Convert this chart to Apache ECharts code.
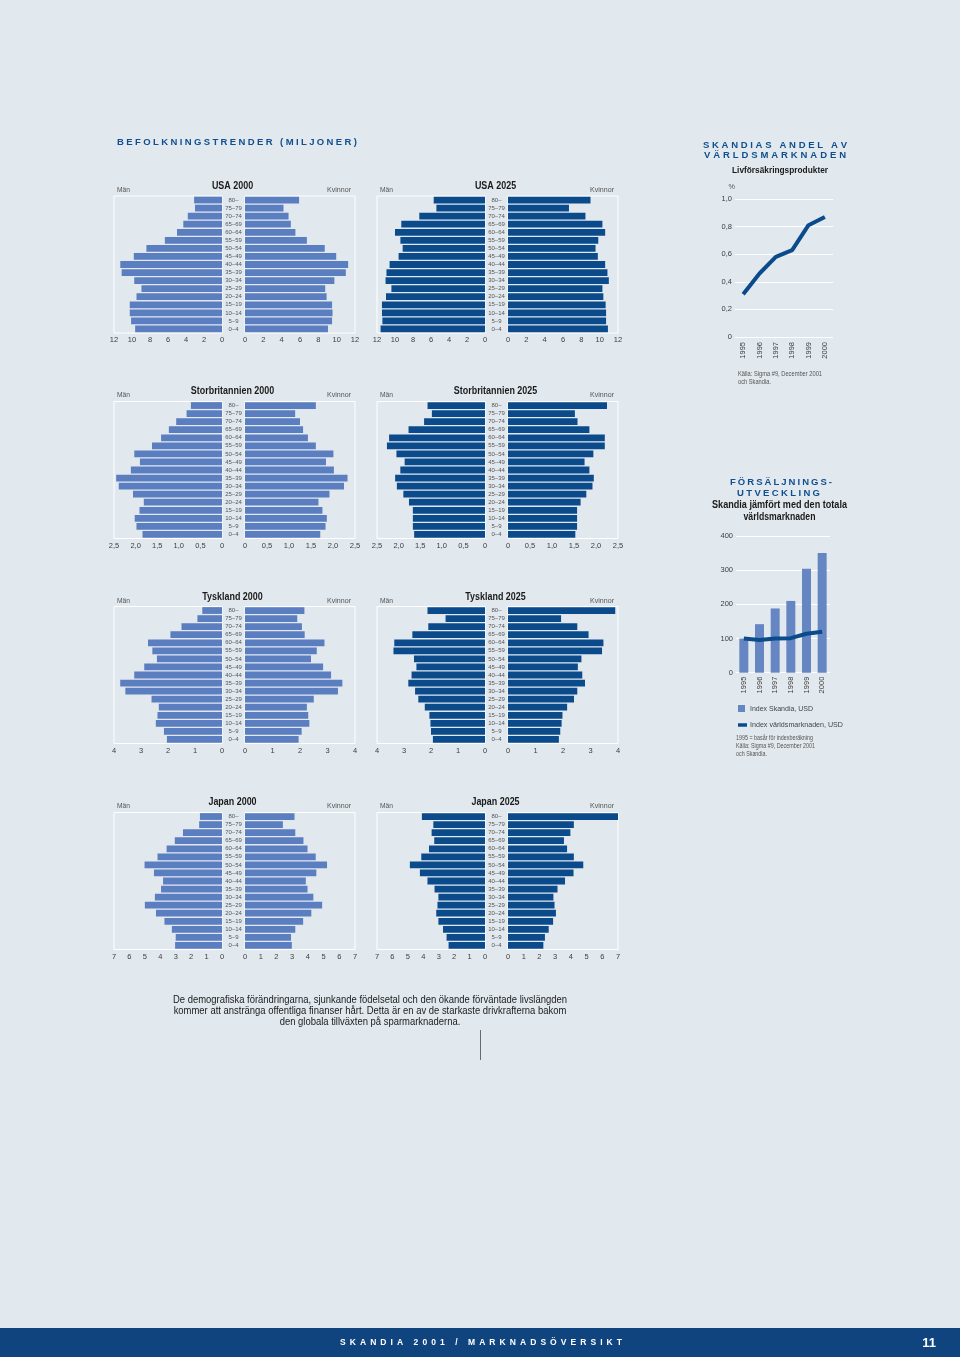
<!DOCTYPE html>
<html><head><meta charset="utf-8">
<script src="https://cdn.jsdelivr.net/npm/echarts@6/dist/echarts.min.js"></script>
<style>html,body{margin:0;padding:0;background:#e2e9ee;} #c{width:960px;height:1357px;}</style>
</head><body><div id="c"></div><script>
// ---------- DATA ----------
const ages = ['80–','75–79','70–74','65–69','60–64','55–59','50–54','45–49','40–44','35–39','30–34','25–29','20–24','15–19','10–14','5–9','0–4'];
const usa2000Men   = [3.1,3.0,3.8,4.3,5.0,6.35,8.4,9.8,11.3,11.15,9.75,8.95,9.5,10.25,10.25,10.1,9.65];
const usa2000Women = [5.9,4.2,4.75,5.0,5.5,6.75,8.7,9.95,11.25,11.0,9.75,8.75,8.9,9.5,9.55,9.5,9.05];
const usa2025Men   = [5.7,5.4,7.3,9.3,10.0,9.4,9.15,9.6,10.6,10.95,11.05,10.4,11.0,11.45,11.45,11.4,11.6];
const usa2025Women = [9.0,6.65,8.45,10.3,10.6,9.85,9.55,9.8,10.6,10.85,11.0,10.3,10.4,10.65,10.7,10.7,10.9];
const uk2000Men    = [0.72,0.82,1.06,1.23,1.41,1.62,2.03,1.9,2.11,2.45,2.39,2.06,1.81,1.91,2.02,1.98,1.84];
const uk2000Women  = [1.61,1.14,1.25,1.32,1.43,1.61,2.01,1.84,2.02,2.33,2.25,1.92,1.67,1.76,1.86,1.83,1.71];
const uk2025Men    = [1.33,1.23,1.41,1.77,2.22,2.27,2.05,1.86,1.96,2.08,2.04,1.89,1.76,1.67,1.67,1.67,1.64];
const uk2025Women  = [2.25,1.52,1.58,1.85,2.2,2.2,1.94,1.74,1.85,1.95,1.92,1.78,1.65,1.57,1.57,1.57,1.53];
const de2000Men    = [0.73,0.91,1.5,1.91,2.74,2.58,2.41,2.88,3.25,3.77,3.58,2.61,2.34,2.39,2.45,2.15,2.04];
const de2000Women  = [2.16,1.9,2.07,2.17,2.89,2.61,2.4,2.84,3.13,3.54,3.38,2.5,2.25,2.3,2.34,2.06,1.95];
const de2025Men    = [2.13,1.46,2.1,2.69,3.36,3.39,2.63,2.54,2.72,2.84,2.59,2.47,2.23,2.06,2.02,2.0,1.93];
const de2025Women  = [3.9,1.93,2.52,2.93,3.47,3.42,2.67,2.54,2.7,2.8,2.52,2.4,2.15,1.98,1.95,1.9,1.85];
const jp2000Men    = [1.43,1.48,2.53,3.06,3.59,4.18,5.02,4.41,3.82,3.95,4.35,5.0,4.28,3.73,3.25,3.0,3.04];
const jp2000Women  = [3.15,2.41,3.2,3.72,3.98,4.5,5.22,4.54,3.87,3.98,4.35,4.91,4.22,3.7,3.2,2.93,2.98];
const jp2025Men    = [4.09,3.35,3.46,3.29,3.63,4.13,4.87,4.22,3.73,3.27,3.02,3.08,3.16,3.02,2.72,2.49,2.36];
const jp2025Women  = [7.0,4.19,3.97,3.56,3.76,4.19,4.79,4.17,3.63,3.15,2.89,2.96,3.05,2.87,2.59,2.35,2.25];
const pyramidTitles = ['USA 2000','USA 2025','Storbritannien 2000','Storbritannien 2025','Tyskland 2000','Tyskland 2025','Japan 2000','Japan 2025'];
const scaleMax  = [12, 2.5, 4, 7];
const scaleStep = [2, 0.5, 1, 1];
const years = ['1995','1996','1997','1998','1999','2000'];
const skandiaShare = [0.31,0.46,0.58,0.63,0.81,0.87];
const skandiaIndex = [100,142,188,210,304,350];
const worldIndex = [100,96,100,101,114,120];
const paragraph = ['De demografiska förändringarna, sjunkande födelsetal och den ökande förväntade livslängden',
                   'kommer att anstränga offentliga finanser hårt. Detta är en av de starkaste drivkrafterna bakom',
                   'den globala tillväxten på sparmarknaderna.'];

// ---------- LAYOUT ----------
const FW = '"Liberation Sans",Arial,sans-serif';
const C_LIGHT = '#5b7ec0', C_DARK = '#0b4b8c', C_HEAD = '#0f4f8f', C_TXT = '#3c3c3c';
const rowTop = [196, 401.5, 606.5, 812.5];
const PH = 137;
const sets = [[usa2000Men,usa2000Women],[usa2025Men,usa2025Women],[uk2000Men,uk2000Women],[uk2025Men,uk2025Women],
              [de2000Men,de2000Women],[de2025Men,de2025Women],[jp2000Men,jp2000Women],[jp2025Men,jp2025Women]];

function fmt(v, step){ if (v === 0) return '0'; return step < 1 ? v.toFixed(1).replace('.', ',') : String(v); }
const mctx = document.createElement('canvas').getContext('2d');
function measure(text, size, weight){ mctx.font = (weight||'normal') + ' ' + size + 'px ' + FW; return mctx.measureText(text).width; }

const grid = [], xAxis = [], yAxis = [], series = [], graphic = [];
function stxt(text, x, y, scale, o){
  o = o || {};
  graphic.push({type:'text', silent:true, x, y, scaleX:scale,
    style:{text, x:0, y:0, fontFamily:FW, fontSize:o.fontSize||8, fontWeight:o.fontWeight||'normal', fill:o.fill||C_TXT, align:o.align||'left', verticalAlign:'middle'}});
}
function fitText(text, x, y, width, o){
  o = o || {};
  const w = measure(text, o.fontSize||8, o.fontWeight);
  stxt(text, x, y, width / w, o);
}
function spacedText(text, cx, y, width, o){
  o = o || {};
  const chars = text.split('');
  const ws = chars.map(ch => measure(ch, o.fontSize||9, o.fontWeight||'bold'));
  const total = ws.reduce((a,b)=>a+b,0);
  const sp = (width - total) / (chars.length - 1);
  let cur = (o.align === 'left') ? cx : cx - width/2;
  chars.forEach((ch, k) => {
    if (ch !== ' ') graphic.push({type:'text', silent:true, style:{text:ch, x:cur, y, fontFamily:FW, fontSize:o.fontSize||9, fontWeight:o.fontWeight||'bold', fill:o.fill||C_HEAD, align:'left', verticalAlign:'middle'}});
    cur += ws[k] + sp;
  });
}

sets.forEach((pair, i) => {
  const row = Math.floor(i/2), col = i % 2, sc = row;
  const dx = 263*col, top = rowTop[row];
  const color = col === 0 ? C_LIGHT : C_DARK;
  const mx = scaleMax[sc], st = scaleStep[sc];
  grid.push({left:114+dx, top, width:108, height:PH, show:true, borderColor:'#ffffff', borderWidth:1, backgroundColor:'transparent'});
  grid.push({left:245+dx, top, width:110, height:PH, show:true, borderColor:'#ffffff', borderWidth:1, backgroundColor:'transparent'});
  const gi = grid.length - 2;
  const xa = (inv, g) => ({type:'value', gridIndex:g, min:0, max:mx, interval:st, inverse:inv,
      axisLine:{show:false}, axisTick:{show:false}, splitLine:{show:false},
      axisLabel:{fontFamily:FW, fontSize:7.5, color:C_TXT, margin:3, formatter:v=>fmt(v,st)}});
  xAxis.push(xa(true, gi)); xAxis.push(xa(false, gi+1));
  yAxis.push({type:'category', gridIndex:gi, data:ages, inverse:true, show:false});
  yAxis.push({type:'category', gridIndex:gi+1, data:ages, inverse:true, position:'left',
      axisLine:{show:false}, axisTick:{show:false},
      axisLabel:{interval:0, fontFamily:FW, fontSize:6, color:'#555', align:'center', margin:11.5}});
  series.push({type:'bar', xAxisIndex:gi, yAxisIndex:gi, data:pair[0], barCategoryGap:'16%', itemStyle:{color}, silent:true});
  series.push({type:'bar', xAxisIndex:gi+1, yAxisIndex:gi+1, data:pair[1], barCategoryGap:'16%', itemStyle:{color}, silent:true});
  const ty = [186, 391, 597, 802][row];
  stxt(pyramidTitles[i], 232.5+dx, ty, 0.85, {fontSize:10.5, fontWeight:'bold', fill:'#1a1a1a', align:'center'});
  fitText('Män', 117+dx, ty+4, 13, {fontSize:8, fill:'#555'});
  fitText('Kvinnor', 351+dx, ty+4, 24, {fontSize:8, fill:'#555', align:'right'});
});

// line chart: Skandia share
const gL = grid.length;
grid.push({left:735, top:199, width:98, height:138});
xAxis.push({type:'category', gridIndex:gL, data:years, boundaryGap:true, axisLine:{show:false}, axisTick:{show:false},
  axisLabel:{rotate:90, fontFamily:FW, fontSize:7.5, color:C_TXT, margin:5}});
yAxis.push({type:'value', gridIndex:gL, min:0, max:1, interval:0.2, axisLine:{show:false}, axisTick:{show:false},
  splitLine:{lineStyle:{color:'#ffffff', width:1}},
  axisLabel:{fontFamily:FW, fontSize:7.5, color:C_TXT, margin:3, formatter:v=>fmt(v,0.2)}});
series.push({type:'line', xAxisIndex:gL, yAxisIndex:gL, data:skandiaShare, symbol:'none', lineStyle:{color:C_DARK, width:4}, silent:true});

// bar chart: index
const gB = grid.length;
grid.push({left:736, top:536, width:94, height:136.7});
xAxis.push({type:'category', gridIndex:gB, data:years, boundaryGap:true, axisLine:{show:false}, axisTick:{show:false},
  axisLabel:{rotate:90, fontFamily:FW, fontSize:7.5, color:C_TXT, margin:4}});
yAxis.push({type:'value', gridIndex:gB, min:0, max:400, interval:100, axisLine:{show:false}, axisTick:{show:false},
  splitLine:{lineStyle:{color:'#ffffff', width:1}},
  axisLabel:{fontFamily:FW, fontSize:7.5, color:C_TXT, margin:3}});
series.push({type:'bar', xAxisIndex:gB, yAxisIndex:gB, data:skandiaIndex, barWidth:9, itemStyle:{color:'#6586c3'}, silent:true});
series.push({type:'line', xAxisIndex:gB, yAxisIndex:gB, data:worldIndex, symbol:'none', lineStyle:{color:C_DARK, width:4}, silent:true});

// ---------- TEXTS ----------
spacedText('BEFOLKNINGSTRENDER (MILJONER)', 117, 142.5, 240, {fontSize:9.5, align:'left'});
spacedText('SKANDIAS ANDEL AV', 775, 145, 144, {fontSize:9.5});
spacedText('VÄRLDSMARKNADEN', 775, 155.5, 142, {fontSize:9.5});
fitText('Livförsäkringsprodukter', 780, 170, 96, {fontSize:9.5, fontWeight:'bold', fill:'#1a1a1a', align:'center'});
stxt('%', 735, 187, 0.9, {fontSize:8, fill:'#555', align:'right'});
fitText('Källa: Sigma #9, December 2001', 738, 374, 84, {fontSize:7, fill:'#555'});
fitText('och Skandia.', 738, 382, 33, {fontSize:7, fill:'#555'});

spacedText('FÖRSÄLJNINGS-', 781, 482, 102, {fontSize:9.5});
spacedText('UTVECKLING', 778.5, 493, 83, {fontSize:9.5});
fitText('Skandia jämfört med den totala', 779.5, 505, 135, {fontSize:10, fontWeight:'bold', fill:'#1a1a1a', align:'center'});
fitText('världsmarknaden', 779.5, 517, 72, {fontSize:10, fontWeight:'bold', fill:'#1a1a1a', align:'center'});
graphic.push({type:'rect', silent:true, shape:{x:738, y:705, width:7, height:7}, style:{fill:'#6586c3'}});
fitText('Index Skandia, USD', 750, 708.5, 63, {fontSize:8, fill:'#444'});
graphic.push({type:'line', silent:true, shape:{x1:738, y1:725, x2:747, y2:725}, style:{stroke:C_DARK, lineWidth:3.5}});
fitText('Index världsmarknaden, USD', 750, 725, 93, {fontSize:8, fill:'#444'});
fitText('1995 = basår för indexberäkning', 736, 738.5, 77, {fontSize:7, fill:'#555'});
fitText('Källa: Sigma #9, December 2001', 736, 746, 79, {fontSize:7, fill:'#555'});
fitText('och Skandia.', 736, 754, 31, {fontSize:7, fill:'#555'});

const pScale = 394 / measure(paragraph[0], 11);
paragraph.forEach((line, k) => stxt(line, 370, 1000 + 11*k, pScale, {fontSize:11, fill:'#1a1a1a', align:'center'}));
graphic.push({type:'line', silent:true, shape:{x1:480.5, y1:1030, x2:480.5, y2:1060}, style:{stroke:'#6a6a6a', lineWidth:1}});

graphic.push({type:'rect', silent:true, shape:{x:0, y:1328, width:960, height:29}, style:{fill:'#10447f'}});
spacedText('SKANDIA 2001 / MARKNADSÖVERSIKT', 481, 1343, 282, {fontSize:8.5, fill:'#ffffff'});
stxt('11', 929, 1343, 1, {fontSize:13, fontWeight:'bold', fill:'#ffffff', align:'center'});

const chart = echarts.init(document.getElementById('c'), null, {renderer:'canvas'});
chart.setOption({backgroundColor:'#e2e9ee', animation:false, grid, xAxis, yAxis, series, graphic});
</script></body></html>
